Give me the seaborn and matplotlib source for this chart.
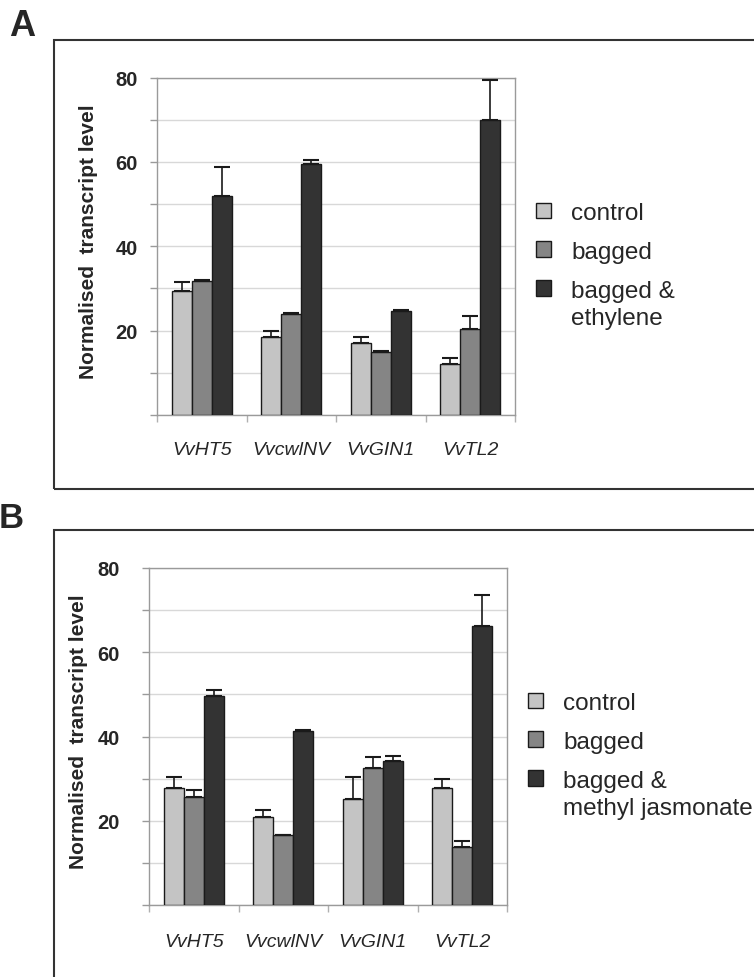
import matplotlib
matplotlib.use("Agg")
import matplotlib.pyplot as plt
from matplotlib.patches import Rectangle
import numpy as np
import pandas as pd
import seaborn as sns

# ---- data -------------------------------------------------------------
genes = ["VvHT5", "VvcwlNV", "VvGIN1", "VvTL2"]

# panel A: ethylene experiment
a_control = [29.5, 18.6, 17.0, 12.1]
a_control_sd = [2.1, 1.2, 1.6, 1.3]
a_bagged = [31.7, 23.9, 15.0, 20.4]
a_bagged_sd = [0.3, 0.3, 0.2, 3.0]
a_treated = [51.8, 59.6, 24.7, 70.0]
a_treated_sd = [6.9, 0.8, 0.2, 9.5]

# panel B: methyl jasmonate experiment
b_control = [27.7, 20.8, 25.2, 27.7]
b_control_sd = [2.6, 1.8, 5.1, 2.1]
b_bagged = [25.6, 16.5, 32.5, 13.7]
b_bagged_sd = [1.7, 0.0, 2.6, 1.6]
b_treated = [49.7, 41.2, 34.3, 66.3]
b_treated_sd = [1.4, 0.3, 1.1, 7.3]

treatments = ["control", "bagged", "treated"]
a_legend = ["control", "bagged", "bagged &", "ethylene"]
b_legend = ["control", "bagged", "bagged &", "methyl jasmonate"]
y_label = "Normalised  transcript level"
y_ticks = [20, 40, 60, 80]

# ---- style ------------------------------------------------------------
sns.set_theme(style="white")
plt.rcParams["font.family"] = ["Liberation Sans", "DejaVu Sans"]

W, H = 754, 978
fig = plt.figure(figsize=(W / 100, H / 100), dpi=100)
palette = ["#c4c4c4", "#858585", "#333333"]


def fx(px):
    return px / W


def fy(py):
    return 1 - py / H


def panel(rect, means, sds, legend_labels, legend_anchor, xpad, ytick_pad,
          ylabel_x):
    left, top, right, bottom = rect
    ax = fig.add_axes([fx(left), fy(bottom), fx(right - left),
                       (bottom - top) / H])
    frames = []
    for t, vals in zip(treatments, means):
        frames.append(pd.DataFrame({"gene": genes, "treatment": t,
                                    "value": vals}))
    df = pd.concat(frames, ignore_index=True)
    sns.barplot(data=df, x="gene", y="value", hue="treatment",
                hue_order=treatments, order=genes, palette=palette,
                width=0.67, errorbar=None, edgecolor="#1a1a1a",
                linewidth=1.0, saturation=1, ax=ax, zorder=3)

    # upper-only error bars on each bar
    for cont, sd in zip(ax.containers, sds):
        xs = [b.get_x() + b.get_width() / 2 for b in cont]
        hs = [b.get_height() for b in cont]
        ax.errorbar(xs, hs, yerr=[np.zeros(len(sd)), sd], fmt="none",
                    ecolor="#1a1a1a", elinewidth=1.2, capsize=5.5,
                    capthick=1.5, zorder=4)

    ax.set_xlim(-0.5, 3.5)
    ax.set_ylim(0, 80)
    ticks = np.arange(0, 81, 10)
    ax.set_yticks(ticks)
    ax.set_yticklabels([str(v) if v in y_ticks else "" for v in ticks])
    ax.grid(axis="y", color="#d8d8d8", linewidth=1.0, zorder=0)
    ax.set_axisbelow(True)
    for s in ax.spines.values():
        s.set_color("#9a9a9a")
        s.set_linewidth(1.0)
    ax.tick_params(axis="y", length=5, width=1, color="#9a9a9a",
                   pad=ytick_pad, labelsize=14.5, left=True)
    for lbl in ax.get_yticklabels():
        lbl.set_fontweight("bold")
    ax.set_xticks(range(len(genes)))
    ax.set_xticklabels(genes, style="italic", fontsize=14)
    ax.tick_params(axis="x", length=0, pad=xpad)
    ax.set_xticks(np.arange(-0.5, 3.6, 1), minor=True)
    ax.tick_params(axis="x", which="minor", length=5, width=1,
                   color="#b0b0b0", bottom=True)
    ax.set_xlabel("")
    ax.set_ylabel(y_label, fontsize=15, fontweight="bold")
    ax.yaxis.set_label_coords((ylabel_x - left) / (right - left),
                              0.5 + 6 / (bottom - top))

    handles, _ = ax.get_legend_handles_labels()
    leg = ax.legend(handles, legend_labels[:3], loc="upper left",
                    bbox_to_anchor=(fx(legend_anchor[0]),
                                    fy(legend_anchor[1])),
                    bbox_transform=fig.transFigure, frameon=False,
                    fontsize=17.5, handlelength=0.6, handleheight=0.6,
                    handletextpad=0.85, labelspacing=0.69, borderpad=0,
                    borderaxespad=0)
    for p in leg.get_patches():
        p.set_edgecolor("#1a1a1a")
        p.set_linewidth(1.0)
    return ax, leg


ax_a, leg_a = panel((157, 78.5, 515, 416),
                    [a_control, a_bagged, a_treated],
                    [a_control_sd, a_bagged_sd, a_treated_sd],
                    a_legend, (536, 203), 19, 9, 98)
ax_b, leg_b = panel((149, 569, 507, 906),
                    [b_control, b_bagged, b_treated],
                    [b_control_sd, b_bagged_sd, b_treated_sd],
                    b_legend, (528, 693), 20, 16, 88)

# second line of the last legend label, placed under its first line
fig.canvas.draw()
renderer = fig.canvas.get_renderer()
for leg, labels in ((leg_a, a_legend), (leg_b, b_legend)):
    t = leg.get_texts()[2]
    bb = t.get_window_extent(renderer)
    fig.text(bb.x0 / W, (bb.y0 - 27) / H, labels[3], fontsize=17.5,
             ha="left", va="bottom")

# panel frames and letters
fig.patches.append(Rectangle((fx(54), fy(490)), fx(760 - 54),
                             (490 - 40.7) / H, transform=fig.transFigure,
                             fill=False, edgecolor="#333333", linewidth=1.5))
fig.patches.append(Rectangle((fx(54), fy(1000)), fx(760 - 54),
                             (1000 - 531) / H, transform=fig.transFigure,
                             fill=False, edgecolor="#333333", linewidth=1.5))
fig.text(fx(9), fy(36.5), "A", fontsize=26, fontweight="bold", ha="left",
         va="baseline")
fig.text(fx(-1), fy(528), "B", fontsize=25, fontweight="bold", ha="left",
         va="baseline")

fig.savefig("out.png", dpi=100)
